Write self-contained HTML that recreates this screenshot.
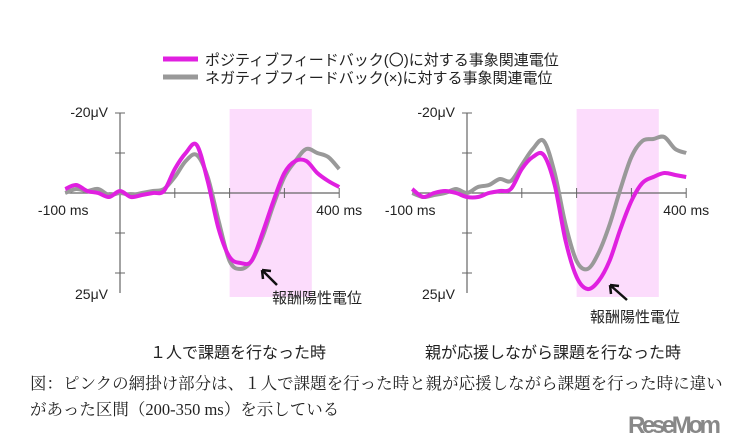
<!DOCTYPE html>
<html><head><meta charset="utf-8">
<style>
body{margin:0;background:#fff;width:741px;height:442px;overflow:hidden}
svg{display:block}
.t{font-family:"Liberation Sans","Noto Sans CJK JP",sans-serif;fill:#222}
.s{font-family:"Liberation Serif","Noto Serif CJK SC",serif;fill:#222}
</style></head><body>
<svg id="c" width="741" height="442" xmlns="http://www.w3.org/2000/svg">
<g>
<line x1="163" y1="59" x2="198" y2="59" stroke="#e020e0" stroke-width="5"/>
<text class="t" x="205" y="65" font-size="15">ポジティブフィードバック(〇)に対する事象関連電位</text>
<line x1="163" y1="77" x2="198" y2="77" stroke="#999" stroke-width="5"/>
<text class="t" x="205" y="83" font-size="15">ネガティブフィードバック(×)に対する事象関連電位</text>
</g>
<text class="t" x="238" y="358" font-size="16" text-anchor="middle">１人で課題を行なった時</text>
<text class="t" x="553" y="358" font-size="16" text-anchor="middle">親が応援しながら課題を行なった時</text>
<text class="s" x="30" y="389" font-size="16.5">図：ピンクの網掛け部分は、１人で課題を行った時と親が応援しながら課題を行った時に違い</text>
<text class="s" x="30" y="415" font-size="16.5">があった区間（200-350 ms）を示している</text>
<text x="628" y="433" font-family="Liberation Sans,sans-serif" font-weight="bold" font-size="24" fill="#888" textLength="93">ReseMom</text>
</svg>
<script>
const times=[-100,-80,-60,-40,-20,0,20,40,60,80,100,120,140,160,180,200,220,240,260,280,300,320,340,360,380,400];
const leftPositive=[-1,-2,-0.5,0,1,-0.5,1,0.5,0,-0.5,-6,-10,-12,-3,9,16,17.5,17,10,2,-5,-8,-8,-5,-3,-1.5];
const leftNegative=[0,-1,-0.5,-1,0.5,0,0.5,0,-0.5,-1,-4,-8,-9.5,-4,7,17,19,17,11,3,-4,-8,-11,-10,-9,-6];
const rightPositive=[-1,1,0,-0.5,0,1,1,0,-0.5,-1,-6,-9,-9.5,-2,12,21,24,22,17,9,2,-2.5,-4,-5,-4.5,-4];
const rightNegative=[0,1,0.5,0,-1,0,-1.5,-2,-3.5,-3,-7,-11,-13,-5,8,17,19,15,8,-1,-9,-13,-13.5,-14,-11,-10];
const yTicks=[-20,-10,0,10,20];
const xTicks=[100,200,300,400];
const shadeRange=[200,350];
const NS="http://www.w3.org/2000/svg";
const svg=document.getElementById('c');
function mk(tag,attrs,parent){const e=document.createElementNS(NS,tag);for(const k in attrs)e.setAttribute(k,attrs[k]);(parent||svg).appendChild(e);return e;}
function chart(id,x0,y0,pos,neg,arrow,label){
  const xs=t=>x0+t*0.548, ys=v=>y0+v*4;
  const g=mk('g',{});
  
  
  const sh=mk('rect',{x:xs(shadeRange[0]),y:ys(-21),width:xs(shadeRange[1])-xs(shadeRange[0]),height:ys(26)-ys(-21),fill:'#fcdcfc'},g);
  
  
  const ax=mk('line',{x1:x0,y1:ys(-20),x2:x0,y2:ys(25),stroke:'#666','stroke-width':1.2},g);
  
  
  const xa=mk('line',{x1:xs(-100),y1:y0,x2:xs(400),y2:y0,stroke:'#666','stroke-width':1.2},g);
  
  
  yTicks.forEach(v=>{const l=mk('line',{x1:x0-5,y1:ys(v),x2:x0+5,y2:ys(v),stroke:'#666'},g);
    
    });
  xTicks.forEach(t=>{const l=mk('line',{x1:xs(t),y1:y0-5,x2:xs(t),y2:y0+5,stroke:'#666'},g);
    
    });
  const labs=[['-20μV',x0-12,ys(-20)+4,'end'],['25μV',x0-12,ys(25)+6,'end'],['-100 ms',xs(-100)-2,y0+22,'middle'],['400 ms',xs(400),y0+22,'middle']];
  labs.forEach(a=>{const t=mk('text',{x:a[1],y:a[2],'font-size':14,'text-anchor':a[3],class:'t'},g);t.textContent=a[0];
    
    });
  function path(vals,col,name){
    const p=times.map((t,i)=>[xs(t),ys(vals[i])]);
    let d='M'+p[0][0]+','+p[0][1];
    for(let i=0;i<p.length-1;i++){const a=p[Math.max(0,i-1)],b=p[i],c=p[i+1],e=p[Math.min(p.length-1,i+2)];
      d+=` C${b[0]+(c[0]-a[0])/6},${b[1]+(c[1]-a[1])/6} ${c[0]-(e[0]-b[0])/6},${c[1]-(e[1]-b[1])/6} ${c[0]},${c[1]}`;}
    const el=mk('path',{d:d,fill:'none',stroke:col,'stroke-width':4,'stroke-linejoin':'round'},g);
    
    
  }
  path(neg,'#999','negative-feedback-line');
  path(pos,'#e020e0','positive-feedback-line');
  const ar=mk('path',{d:`M${arrow[0]},${arrow[1]} L${arrow[2]},${arrow[3]} M${arrow[2]},${arrow[3]} l9,1 M${arrow[2]},${arrow[3]} l1,9`,stroke:'#111','stroke-width':2.5,fill:'none'},g);
  
  
  const lt=mk('text',{x:label[0],y:label[1],'font-size':15,class:'t'},g);lt.textContent='報酬陽性電位';
  
  
}
chart('left-chart',120,193,leftPositive,leftNegative,[277,285,262,270],[272,303]);
chart('right-chart',467,193,rightPositive,rightNegative,[627,300,610,285],[590,322]);
</script>
</body></html>
